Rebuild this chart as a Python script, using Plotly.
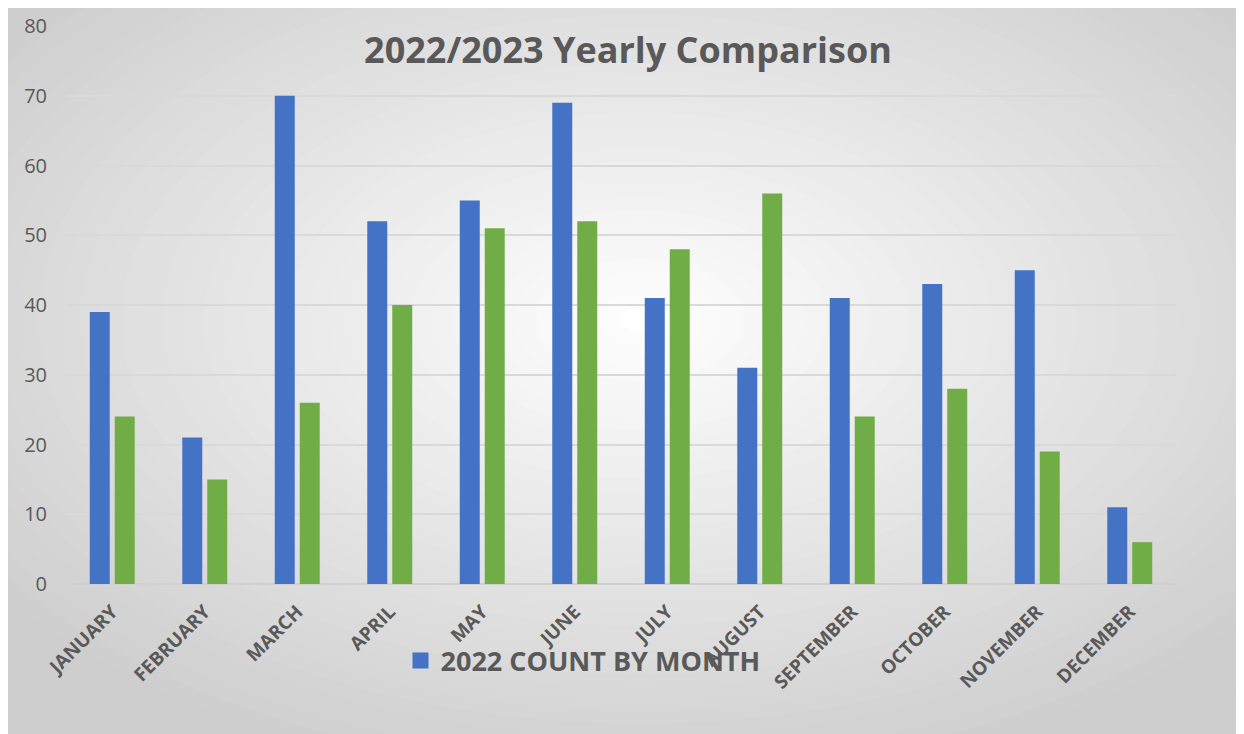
import plotly.graph_objects as go

months = ["JANUARY", "FEBRUARY", "MARCH", "APRIL", "MAY", "JUNE", "JULY",
          "AUGUST", "SEPTEMBER", "OCTOBER", "NOVEMBER", "DECEMBER"]
count_2022 = [39, 21, 70, 52, 55, 69, 41, 31, 41, 43, 45, 11]
count_2023 = [24, 15, 26, 40, 51, 52, 48, 56, 24, 28, 19, 6]
y_ticks = [0, 10, 20, 30, 40, 50, 60, 70, 80]

OFF = 8  # page body margin
W, H = 1244 - OFF, 734 - OFF
# plot area in screen pixels: x 66..1176, y 26..584
L, R, T, B = 66 - OFF, 1244 - 1176, 26 - OFF, 734 - 584
pw, ph = W - L - R, H - T - B

def px_to_paper(px, py):
    # screen pixel -> paper coordinates
    return (px - OFF - L) / pw, (H - B - (py - OFF)) / ph

TEXT = "#595959"
FONT = "Open Sans"

fig = go.Figure()
fig.add_trace(go.Bar(x=months, y=count_2022, name="2022 COUNT BY MONTH",
                     marker=dict(color="#4472C4", line=dict(width=0)),
                     showlegend=False))
fig.add_trace(go.Bar(x=months, y=count_2023, name="2023 COUNT BY MONTH",
                     marker=dict(color="#70AD47", line=dict(width=0)),
                     showlegend=False))
# legend entry (square marker like the reference)
fig.add_trace(go.Scatter(x=[None], y=[None], mode="markers",
                         name="<b>2022 COUNT BY MONTH</b>",
                         marker=dict(symbol="square", size=18, color="#4472C4"),
                         showlegend=True, hoverinfo="skip"))

# radial gradient background via concentric ellipses
shapes = []
cx, cy = 640, 320
N = 45
kmax = 1.5
for i in range(N, 0, -1):
    k = kmax * i / N
    t = min(k / 1.3, 1.0)
    v = int(round(255 - (255 - 206) * t))
    col = f"rgb({v},{v},{v})"
    x0, y0 = px_to_paper(cx - 622 * k, cy + 367 * k)
    x1, y1 = px_to_paper(cx + 622 * k, cy - 367 * k)
    shapes.append(dict(type="circle", xref="paper", yref="paper",
                       x0=x0, y0=y0, x1=x1, y1=y1,
                       fillcolor=col, line=dict(width=0), layer="below"))

lx, ly = px_to_paper(583, 661)

fig.update_layout(
    width=W, height=H,
    margin=dict(l=L, r=R, t=T, b=B, autoexpand=False),
    paper_bgcolor="rgb(206,206,206)",
    plot_bgcolor="rgba(0,0,0,0)",
    shapes=shapes,
    barmode="group", bargap=0.46, bargroupgap=0.2,
    title=dict(text="<b>2022/2023 Yearly Comparison</b>", x=(628 - OFF) / W,
               xanchor="center", y=1 - (50 - OFF) / H, yanchor="middle",
               yref="container",
               font=dict(family=FONT, size=36, color=TEXT)),
    font=dict(family=FONT, color=TEXT),
    showlegend=True,
    legend=dict(x=lx, y=ly, xanchor="center", yanchor="middle",
                bgcolor="rgba(0,0,0,0)", orientation="h",
                font=dict(family=FONT, size=27, color=TEXT),
                itemsizing="trace"),
    xaxis=dict(tickangle=-45, showgrid=False, showline=False, ticks="",
               tickvals=months, ticktext=[f"<b>{m}</b>" for m in months],
               ticklabelstandoff=12,
               tickfont=dict(family=FONT, size=19, color=TEXT),
               categoryorder="array", categoryarray=months),
    yaxis=dict(range=[0, 80], tickvals=y_ticks, showgrid=True,
               gridcolor="#d9d9d9", gridwidth=1.5, zeroline=True,
               zerolinecolor="#d0d0d0", zerolinewidth=1.5, showline=False,
               ticks="", ticklabelstandoff=18,
               tickfont=dict(family=FONT, size=20, color=TEXT)),
)

fig.write_html("out.html")
